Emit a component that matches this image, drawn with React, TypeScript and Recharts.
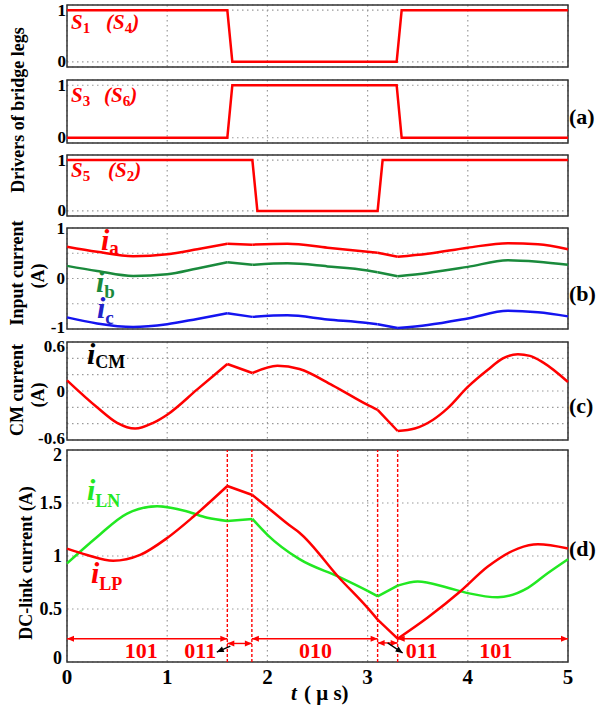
import React from 'react';
import {
  LineChart,
  Line,
  XAxis,
  YAxis,
  CartesianGrid,
  ReferenceArea,
  ReferenceLine,
  ReferenceDot,
} from 'recharts';

const FONT = '"Liberation Serif", "Times New Roman", serif';

// ---------- data ----------
const xTicks = [0, 1, 2, 3, 4, 5];

// drivers of bridge legs
const tS1 = [0, 1.6, 1.65, 3.29, 3.34, 5];
const S1 = [1, 1, 0, 0, 1, 1];
const tS3 = [0, 1.6, 1.65, 3.29, 3.34, 5];
const S3 = [0, 0, 1, 1, 0, 0];
const tS5 = [0, 1.85, 1.9, 3.1, 3.15, 5];
const S5 = [1, 1, 0, 0, 1, 1];

// input currents
const tIn = [0, 0.3, 0.66, 1.0, 1.3, 1.6, 1.85, 2.2, 2.6, 3.0, 3.1, 3.3, 3.6, 4.0, 4.4, 4.7, 5.0];
const ia = [0.63, 0.53, 0.44, 0.48, 0.58, 0.69, 0.67, 0.69, 0.61, 0.53, 0.51, 0.43, 0.49, 0.61, 0.7, 0.68, 0.58];
const ib = [0.25, 0.15, 0.05, 0.085, 0.2, 0.32, 0.27, 0.3, 0.24, 0.16, 0.125, 0.046, 0.11, 0.23, 0.36, 0.33, 0.27];
const ic = [-0.77, -0.89, -0.96, -0.905, -0.8, -0.69, -0.76, -0.73, -0.81, -0.88, -0.905, -0.98, -0.92, -0.79, -0.64, -0.67, -0.75];

// common-mode current
const tCM = [0, 0.3, 0.5, 0.68, 0.86, 1.0, 1.3, 1.6, 1.85, 2.1, 2.32, 2.65, 3.0, 3.1, 3.3, 3.47, 3.65, 3.8, 4.0, 4.2, 4.35, 4.5, 4.62, 4.75, 5.0];
const iCM = [0.13, -0.2, -0.39, -0.46, -0.39, -0.29, 0.02, 0.33, 0.22, 0.31, 0.27, 0.07, -0.17, -0.23, -0.49, -0.46, -0.355, -0.21, 0.05, 0.26, 0.4, 0.45, 0.43, 0.35, 0.11];

// DC-link currents
const tLP = [0, 0.2, 0.46, 0.73, 1.0, 1.26, 1.6, 1.85, 2.0, 2.22, 2.32, 2.72, 3.0, 3.1, 3.3, 3.6, 3.93, 4.2, 4.5, 4.7, 5.0];
const iLP = [1.07, 1.01, 0.955, 1.01, 1.17, 1.37, 1.66, 1.575, 1.46, 1.29, 1.22, 0.79, 0.51, 0.4, 0.22, 0.42, 0.67, 0.9, 1.07, 1.11, 1.07];
const tLN = [0, 0.3, 0.6, 0.9, 1.2, 1.4, 1.6, 1.85, 2.0, 2.32, 2.72, 3.0, 3.1, 3.3, 3.5, 3.8, 4.0, 4.3, 4.6, 4.8, 5.0];
const iLN = [0.93, 1.18, 1.4, 1.47, 1.42, 1.36, 1.33, 1.35, 1.2, 0.97, 0.8, 0.67, 0.62, 0.72, 0.76, 0.7, 0.65, 0.61, 0.7, 0.84, 0.97];

// switching instants (waveform kinks) and sector annotation
const kinkTimes = [1.6, 1.85, 3.1, 3.3];
const switchTimes = [1.6, 1.845, 3.1, 3.3];
const segStart = [0, 1.6, 1.845, 3.1, 3.3];
const segEnd = [1.6, 1.845, 3.1, 3.3, 5];
const segLevel = [0.22, 0.175, 0.22, 0.18, 0.22];
const segLabels = ['101', '011', '010', '011', '101'];
const segLabelX = [0.74, 1.33, 2.48, 3.54, 4.28];
const segLabelY = 0.108;
const pointerFrom = [
  { x: 1.63, y: 0.15 },
  { x: 3.2, y: 0.18 },
];
const pointerTo = [
  { x: 1.495, y: 0.094 },
  { x: 3.35, y: 0.085 },
];

// ---------- helpers ----------
const zip = (t: number[], v: number[]) => t.map((x, i) => ({ x, y: v[i] }));

// split a waveform at the switching instants so each piece is drawn smooth
const pieces = (t: number[], v: number[], cuts: number[]) => {
  const out: { x: number; y: number }[][] = [];
  let cur: { x: number; y: number }[] = [];
  t.forEach((x, i) => {
    cur.push({ x, y: v[i] });
    if (cuts.some((c) => Math.abs(c - x) < 1e-9) && i > 0 && i < t.length - 1) {
      out.push(cur);
      cur = [{ x, y: v[i] }];
    }
  });
  out.push(cur);
  return out;
};

const RED = '#ff0000';
const DGREEN = '#1a8a3c';
const BLUE = '#1414f0';
const LGREEN = '#22e822';

const makeArrow = (color: string, both: boolean, size = 7, half = 3) => (p: any) => {
  const { x1, y1, x2, y2 } = p;
  const ang = Math.atan2(y2 - y1, x2 - x1);
  const head = (x: number, y: number, a: number) => {
    const bx = x - size * Math.cos(a);
    const by = y - size * Math.sin(a);
    const nx = -Math.sin(a) * half;
    const ny = Math.cos(a) * half;
    return `${x},${y} ${bx + nx},${by + ny} ${bx - nx},${by - ny}`;
  };
  return (
    <g>
      <line x1={x1} y1={y1} x2={x2} y2={y2} stroke={color} strokeWidth={1.4} />
      <polygon points={head(x2, y2, ang)} fill={color} />
      {both && <polygon points={head(x1, y1, ang + Math.PI)} fill={color} />}
    </g>
  );
};

type PanelProps = {
  top: number;
  plotH: number;
  domain: [number, number];
  ticks: number[];
  labels: string[];
  shifts?: number[];
  tickMargin: number;
  tickFont: number;
  showX?: boolean;
  children?: React.ReactNode;
};

function Panel({ top, plotH, domain, ticks, labels, shifts, tickMargin, tickFont, showX, children }: PanelProps) {
  const mt = 12;
  const mb = showX ? 0 : 12;
  const xh = showX ? 44 : 0;
  const h = plotH + mt + mb + xh;
  const YTick = (p: any) => {
    const i = p.index;
    const dy = shifts ? shifts[i] || 0 : 0;
    return (
      <text
        x={p.x}
        y={p.y + dy}
        textAnchor="end"
        dominantBaseline="central"
        fontFamily={FONT}
        fontWeight="bold"
        fontSize={tickFont}
        fill="#000"
      >
        {labels[i]}
      </text>
    );
  };
  return (
    <div style={{ position: 'absolute', left: 0, top: top - mt }}>
      <LineChart width={596} height={h} margin={{ top: mt, right: 28, bottom: mb, left: 0 }}>
        <CartesianGrid stroke="#9a9a9a" strokeWidth={1.2} strokeDasharray="1.5 3.5" />
        <XAxis
          type="number"
          dataKey="x"
          domain={[0, 5]}
          ticks={xTicks}
          interval={0}
          hide={!showX}
          height={xh || undefined}
          axisLine={false}
          tickLine={false}
          tickSize={0}
          tickMargin={7}
          tick={{ fontSize: 21, fontWeight: 'bold', fill: '#000', fontFamily: FONT }}
        />
        <YAxis
          type="number"
          domain={domain}
          ticks={ticks}
          interval={0}
          width={67}
          axisLine={false}
          tickLine={false}
          tickSize={0}
          tickMargin={tickMargin}
          tick={YTick}
        />
        {children}
        <ReferenceArea
          x1={0}
          x2={5}
          y1={domain[0]}
          y2={domain[1]}
          fill="none"
          fillOpacity={0}
          stroke="#333"
          strokeWidth={1.5}
          ifOverflow="visible"
        />
      </LineChart>
    </div>
  );
}

const lineCommon = {
  dataKey: 'y',
  type: 'linear' as const,
  dot: false,
  strokeWidth: 2.5,
  isAnimationActive: false,
};

const smoothLines = (t: number[], v: number[], color: string, key: string) =>
  pieces(t, v, kinkTimes).map((d, i) => (
    <Line key={key + i} {...lineCommon} type="monotone" data={d} stroke={color} />
  ));

export default function App() {
  const titleStyle = { fontFamily: FONT, fontWeight: 'bold' as const, fontSize: 18, fill: '#000' };
  return (
    <div
      style={{
        position: 'absolute',
        left: 0,
        top: 0,
        width: 596,
        height: 711,
        background: '#fff',
        overflow: 'hidden',
      }}
    >
      <Panel top={5} plotH={62} domain={[-0.1, 1.1]} ticks={[0, 1]} labels={['0', '1']} tickMargin={1} tickFont={17}>
        <Line {...lineCommon} data={zip(tS1, S1)} stroke={RED} />
      </Panel>
      <Panel top={80} plotH={63} domain={[-0.1, 1.1]} ticks={[0, 1]} labels={['0', '1']} tickMargin={1} tickFont={17}>
        <Line {...lineCommon} data={zip(tS3, S3)} stroke={RED} />
      </Panel>
      <Panel top={155} plotH={61} domain={[-0.1, 1.1]} ticks={[0, 1]} labels={['0', '1']} tickMargin={1} tickFont={17}>
        <Line {...lineCommon} data={zip(tS5, S5)} stroke={RED} />
      </Panel>
      <Panel
        top={228}
        plotH={101}
        domain={[-1, 1]}
        ticks={[-1, -0.5, 0, 0.5, 1]}
        labels={['-1', '', '0', '', '1']}
        shifts={[-2, 0, 0, 0, 0]}
        tickMargin={2}
        tickFont={17}
      >
        {smoothLines(tIn, ia, RED, 'a')}
        {smoothLines(tIn, ib, DGREEN, 'b')}
        {smoothLines(tIn, ic, BLUE, 'c')}
      </Panel>
      <Panel
        top={342}
        plotH={98}
        domain={[-0.6, 0.6]}
        ticks={[-0.6, -0.4, -0.2, 0, 0.2, 0.4, 0.6]}
        labels={['-0.6', '', '', '0', '', '', '0.6']}
        shifts={[-2, 0, 0, 0, 0, 0, 4]}
        tickMargin={2}
        tickFont={17}
      >
        {smoothLines(tCM, iCM, RED, 'cm')}
      </Panel>
      <Panel
        top={450}
        plotH={212}
        domain={[0, 2]}
        ticks={[0, 0.5, 1, 1.5, 2]}
        labels={['0', '0.5', '1', '1.5', '2']}
        shifts={[-4, 0, 0, 0, 5]}
        tickMargin={5}
        tickFont={18}
        showX
      >
        {switchTimes.map((s, i) => (
          <ReferenceLine key={'v' + i} x={s} stroke={RED} strokeWidth={1.4} strokeDasharray="3 2" ifOverflow="visible" />
        ))}
        {smoothLines(tLN, iLN, LGREEN, 'ln')}
        {smoothLines(tLP, iLP, RED, 'lp')}
        {segStart.map((s, i) => (
          <ReferenceLine
            key={'s' + i}
            segment={[
              { x: s, y: segLevel[i] },
              { x: segEnd[i], y: segLevel[i] },
            ]}
            ifOverflow="visible"
            shape={makeArrow(RED, true)}
          />
        ))}
        {pointerFrom.map((p, i) => (
          <ReferenceLine
            key={'p' + i}
            segment={[p, pointerTo[i]]}
            ifOverflow="visible"
            shape={makeArrow('#000', false, 7, 3)}
          />
        ))}
        {segLabels.map((l, i) => (
          <ReferenceDot
            key={'l' + i}
            x={segLabelX[i]}
            y={segLabelY}
            r={0}
            fill="none"
            stroke="none"
            ifOverflow="visible"
            label={{
              value: l,
              position: 'center',
              fill: RED,
              fontSize: 22,
              fontWeight: 'bold',
              fontFamily: FONT,
            }}
          />
        ))}
      </Panel>

      <svg
        width={596}
        height={711}
        style={{ position: 'absolute', left: 0, top: 0, pointerEvents: 'none' }}
      >
        {/* axis titles */}
        <text transform="translate(18,110) rotate(-90)" textAnchor="middle" dominantBaseline="central" {...titleStyle}>
          Drivers of bridge legs
        </text>
        <text transform="translate(17,273) rotate(-90)" textAnchor="middle" dominantBaseline="central" {...titleStyle}>
          Input current
        </text>
        <text transform="translate(38,276) rotate(-90)" textAnchor="middle" dominantBaseline="central" {...titleStyle}>
          (A)
        </text>
        <text transform="translate(17,390) rotate(-90)" textAnchor="middle" dominantBaseline="central" {...titleStyle}>
          CM current
        </text>
        <text transform="translate(38,395) rotate(-90)" textAnchor="middle" dominantBaseline="central" {...titleStyle}>
          (A)
        </text>
        <text transform="translate(26,563) rotate(-90)" textAnchor="middle" dominantBaseline="central" {...titleStyle}>
          DC-link current (A)
        </text>
        <text x={291} y={700} fontFamily={FONT} fontWeight="bold" fontSize={21} fill="#000">
          <tspan fontStyle="italic">t</tspan>
          <tspan x={304}>( μ s)</tspan>
        </text>

        {/* panel labels */}
        {[
          ['(a)', 124],
          ['(b)', 301],
          ['(c)', 413],
          ['(d)', 556],
        ].map(([s, y]) => (
          <text key={s as string} x={569} y={y as number} fontFamily={FONT} fontWeight="bold" fontSize={22} fill="#000">
            {s}
          </text>
        ))}

        {/* driver labels */}
        {[
          ['1', '4', 29, 106],
          ['3', '6', 102, 104],
          ['5', '2', 177, 108],
        ].map(([a, b, y, px]) => (
          <text key={a as string} x={71} y={y as number} fontFamily={FONT} fontWeight="bold" fontSize={21} fill={RED}>
            <tspan fontStyle="italic">S</tspan>
            <tspan fontSize={15} dy={4}>{a}</tspan>
            <tspan x={px as number} dy={-4} fontStyle="italic">(S</tspan>
            <tspan fontSize={15} dy={4}>{b}</tspan>
            <tspan dy={-4} fontStyle="italic">)</tspan>
          </text>
        ))}

        {/* current labels */}
        {[
          ['a', 101, 250, RED, 19, 4],
          ['b', 96, 292, DGREEN, 19, 6],
          ['c', 97, 318, '#2222c8', 19, 6],
          ['CM', 87, 364, '#000', 18, 4],
          ['LN', 87, 500, LGREEN, 18, 7],
          ['LP', 91, 583, RED, 18, 7],
        ].map(([s, x, y, c, fs, dy]) => (
          <text key={s as string} x={x as number} y={y as number} fontFamily={FONT} fontWeight="bold" fontSize={30} fill={c as string}>
            <tspan fontStyle="italic">i</tspan>
            <tspan fontSize={fs as number} dy={dy as number}>{s}</tspan>
          </text>
        ))}
      </svg>
    </div>
  );
}
